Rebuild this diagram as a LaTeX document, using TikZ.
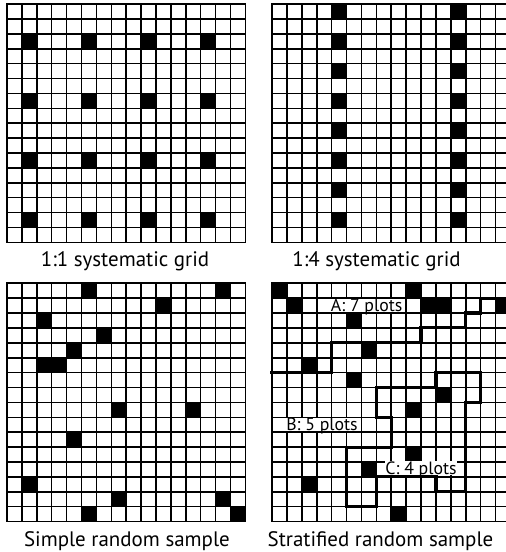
\documentclass[tikz,border=0pt]{standalone}
\usepackage{fontspec}
\setmainfont{PT Sans}
\usepackage{tikz}

\begin{document}
\begin{tikzpicture}[x=0.5cm, y=-0.5cm,
    gridline/.style={line width=1.5pt, line cap=rect},
    plot/.style={fill=black},
    stratum/.style={line width=3pt, line join=miter, line cap=rect},
    plotlabel/.style={fill=white, inner sep=0.5pt, text depth=0pt, anchor=base,
                      font=\fontsize{17}{19}\selectfont},
    caption/.style={anchor=base, font=\fontsize{20}{23}\selectfont}
  ]
  \clip (-0.47,-0.27) rectangle (33.49,36.78);

  % 1:1 systematic grid
  \begin{scope}
    \foreach \c in {1,5,9,13}
      \foreach \r in {2,6,10,14}
        \fill[plot] (\c,\r) rectangle ++(1,1);
    \foreach \i in {0,...,16} {
      \draw[gridline] (\i,0) -- (\i,16);
      \draw[gridline] (0,\i) -- (16,\i);
    }
  \end{scope}
  \node[caption] (SYS11) at (7.92,17.62) {1:1 systematic grid};

  % 1:4 systematic grid
  \begin{scope}[shift={(17.79,0)}]
    \foreach \c in {4,12}
      \foreach \r in {0,2,...,14}
        \fill[plot] (\c,\r) rectangle ++(1,1);
    \foreach \i in {0,...,16} {
      \draw[gridline] (\i,0) -- (\i,16);
      \draw[gridline] (0,\i) -- (16,\i);
    }
  \end{scope}
  \node[caption] (SYS14) at (24.8,17.62) {1:4 systematic grid};

  % simple random sample
  \begin{scope}[shift={(0,18.74)}]
    \foreach \c/\r in {5/0,14/0,10/1,2/2,6/3,4/4,2/5,3/5,7/8,12/8,4/10,1/13,7/14,14/14,5/15,15/15}
      \fill[plot] (\c,\r) rectangle ++(1,1);
    \foreach \i in {0,...,16} {
      \draw[gridline] (\i,0) -- (\i,16);
      \draw[gridline] (0,\i) -- (16,\i);
    }
  \end{scope}
  \node[caption] (SRS) at (8.05,36.38) {Simple random sample};

  % stratified random sample
  \begin{scope}[shift={(17.79,18.74)}]
    \foreach \c/\r in {0/0,9/0,1/1,10/1,11/1,15/1,5/2,6/4,2/5,5/6,11/7,9/8,9/11,6/12,2/13,8/15}
      \fill[plot] (\c,\r) rectangle ++(1,1);
    \foreach \i in {0,...,16} {
      \draw[gridline] (\i,0) -- (\i,16);
      \draw[gridline] (0,\i) -- (16,\i);
    }
    \node[plotlabel] (STRATA) at (6.35,1.92) {A: 7 plots};
    \node[plotlabel] (STRATB) at (3.35,9.9) {B: 5 plots};
    \node[plotlabel] (STRATC) at (10.0,12.85) {C: 4 plots};
    % strata boundaries
    \draw[stratum] (0,6) -- (4,6) -- (4,4) -- (10,4) -- (10,3) -- (13,3)
      -- (13,2) -- (14,2) -- (14,1) -- (16,1);
    \draw[stratum] (7,7) -- (11,7) -- (11,6) -- (14,6) -- (14,8) -- (13,8)
      -- (13,14) -- (11,14) -- (11,13) -- (7,13) -- (7,15) -- (5,15)
      -- (5,11) -- (8,11) -- (8,9) -- (7,9) -- cycle;
  \end{scope}
  \node[caption] (STRAT) at (25.07,36.38) {Stratified random sample};
\end{tikzpicture}
\end{document}
